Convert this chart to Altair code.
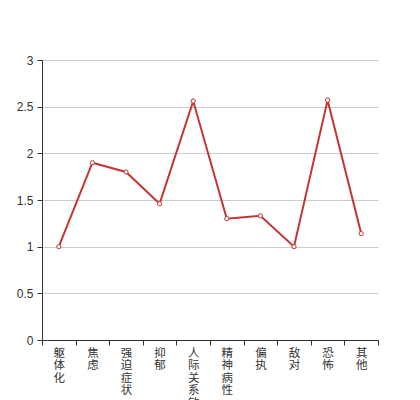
import altair as alt
import pandas as pd

categories = ["躯体化", "焦虑", "强迫症状", "抑郁", "人际关系敏感", "精神病性", "偏执", "敌对", "恐怖", "其他"]
values = [1.0, 1.9, 1.8, 1.46, 2.56, 1.3, 1.33, 1.0, 2.57, 1.14]

df = pd.DataFrame({"cat": categories, "val": values})

band = alt.Scale(type="band", paddingInner=0, paddingOuter=0)

x = alt.X("cat:N", sort=categories, title=None, scale=band,
          axis=alt.Axis(labelAngle=0, labelExpr="split(datum.label, '')",
                        labelFont="Noto Sans CJK SC", labelFontSize=11.5, labelLineHeight=12.5,
                        labelColor="#333", labelBaseline="top", labelPadding=2,
                        tickBand="extent", tickColor="#333", domainColor="#333",
                        tickSize=5, grid=False))
y = alt.Y("val:Q", title=None,
          scale=alt.Scale(domain=[0, 3], nice=False),
          axis=alt.Axis(values=[0, 0.5, 1, 1.5, 2, 2.5, 3], format="~g", labelFont="Liberation Sans",
                        labelFontSize=12, labelColor="#333", tickColor="#333",
                        domainColor="#333", tickSize=5, labelPadding=4,
                        gridColor="#ccc", grid=True))

line = alt.Chart(df).mark_line(color="#c23531", strokeWidth=2).encode(
    x=alt.X("cat:N", sort=categories, bandPosition=0.5, scale=band), y="val:Q")
pts = alt.Chart(df).mark_point(filled=True, fill="white", stroke="#c23531", strokeWidth=1, size=18, opacity=1).encode(
    x=alt.X("cat:N", sort=categories, bandPosition=0.5, scale=band), y="val:Q")
base = alt.Chart(df).mark_point(opacity=0).encode(x=x, y=y)

chart = alt.layer(base, line, pts).properties(
    width=336, height=280,
    autosize=alt.AutoSizeParams(type="none"),
    padding={"left": 34, "top": 52, "right": 34, "bottom": 70},
).configure_view(stroke=None)

chart.save("out.html", embed_options={"renderer": "svg", "actions": False})
